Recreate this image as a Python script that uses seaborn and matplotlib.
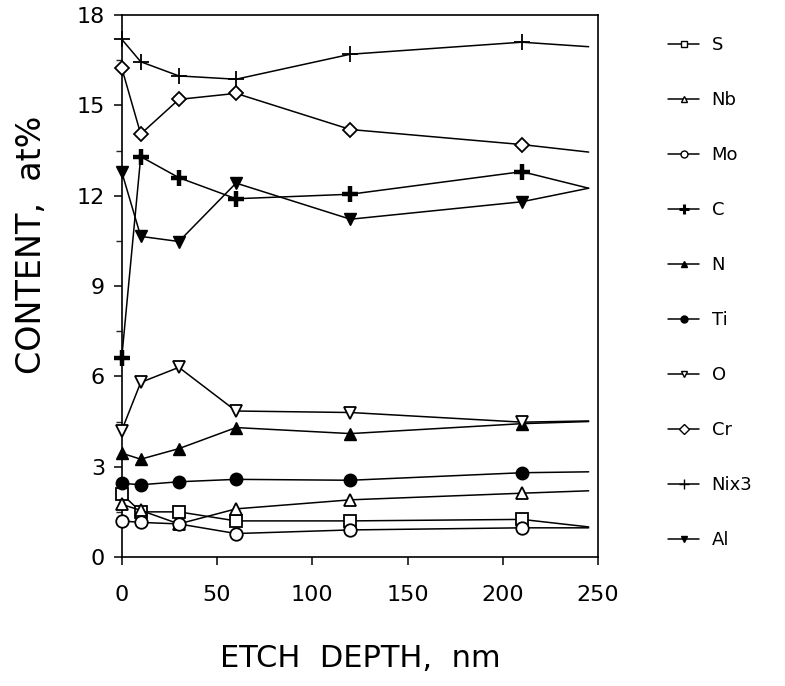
import matplotlib
matplotlib.use("Agg")
import matplotlib.pyplot as plt
from matplotlib.lines import Line2D
from matplotlib.ticker import MultipleLocator
import seaborn as sns
import pandas as pd

# etch depth (nm); last point is the line end without a marker
depth = [0, 10, 30, 60, 120, 210, 245]

s_vals = [2.1, 1.5, 1.5, 1.2, 1.2, 1.25, 1.0]
nb_vals = [1.75, 1.55, 1.1, 1.6, 1.9, 2.12, 2.2]
mo_vals = [1.2, 1.15, 1.1, 0.78, 0.9, 0.97, 0.97]
c_vals = [6.6, 13.3, 12.6, 11.9, 12.05, 12.8, 12.25]
n_vals = [3.45, 3.25, 3.6, 4.3, 4.1, 4.43, 4.5]
ti_vals = [2.45, 2.4, 2.5, 2.58, 2.55, 2.8, 2.83]
o_vals = [4.2, 5.8, 6.3, 4.85, 4.8, 4.48, 4.52]
cr_vals = [16.25, 14.05, 15.2, 15.4, 14.2, 13.7, 13.45]
ni_vals = [17.2, 16.45, 15.98, 15.87, 16.7, 17.1, 16.95]
al_vals = [12.8, 10.65, 10.48, 12.42, 11.22, 11.8, 12.25]

elements = ["S", "Nb", "Mo", "C", "N", "Ti", "O", "Cr", "Nix3", "Al"]
values = [s_vals, nb_vals, mo_vals, c_vals, n_vals, ti_vals, o_vals, cr_vals, ni_vals, al_vals]

# marker, filled?, edge width
styles = {
    "S": ("s", False, 1.3),
    "Nb": ("^", False, 1.3),
    "Mo": ("o", False, 1.3),
    "C": ("+", True, 3.2),
    "N": ("^", True, 1.0),
    "Ti": ("o", True, 1.0),
    "O": ("v", False, 1.3),
    "Cr": ("D", False, 1.3),
    "Nix3": ("+", True, 1.3),
    "Al": ("v", True, 1.0),
}

df = pd.DataFrame({"depth": depth * len(elements),
                   "content": sum(values, []),
                   "element": [e for e in elements for _ in depth]})

sns.set_theme(style="ticks")
plt.rcParams["font.family"] = ["DejaVu Sans"]
plt.rcParams["text.color"] = "black"
plt.rcParams["axes.labelcolor"] = "black"

fig = plt.figure(figsize=(7.85, 6.86), dpi=100)
ax = fig.add_axes([0.155, 0.188, 0.607, 0.79])

for el in elements:
    m, filled, mew = styles[el]
    sub = df[df["element"] == el]
    sizes = 12 if el in ("C", "Nix3") else (7.5 if el == "Cr" else 9)
    sns.lineplot(data=sub, x="depth", y="content", ax=ax, color="black",
                 lw=1.1, marker=m, markersize=sizes,
                 markerfacecolor="black" if filled else "white",
                 markeredgecolor="black", markeredgewidth=mew,
                 markevery=list(range(len(depth) - 1)), legend=False,
                 clip_on=False, zorder=3)

ax.set_xlim(0, 250)
ax.set_ylim(0, 18)
ax.xaxis.set_major_locator(MultipleLocator(50))
ax.yaxis.set_major_locator(MultipleLocator(3))
ax.yaxis.set_minor_locator(MultipleLocator(1.5))
ax.tick_params(axis="both", which="major", direction="out", length=6, width=1.1,
               labelsize=16, colors="black")
ax.tick_params(axis="y", which="minor", direction="out", length=4, width=1.0)
ax.tick_params(axis="x", pad=14)
ax.tick_params(axis="y", pad=6)
for sp in ax.spines.values():
    sp.set_linewidth(1.2)
    sp.set_color("black")

ax.set_xlabel("ETCH  DEPTH,  nm", fontsize=22, labelpad=28)
ax.set_ylabel("CONTENT,  at%", fontsize=24)
ax.yaxis.set_label_coords(-0.155, 0.576)

handles = []
for el in elements:
    m, filled, mew = styles[el]
    handles.append(Line2D([], [], color="black", lw=1.1, marker=m,
                          markersize=7 if el in ("C", "Nix3") else 5,
                          markerfacecolor="black" if filled else "white",
                          markeredgecolor="black",
                          markeredgewidth=2.2 if el == "C" else 1.0))
fig.legend(handles, elements, loc="upper left", bbox_to_anchor=(0.842, 0.958),
           frameon=False, fontsize=13, labelspacing=2.05, handlelength=1.7,
           handletextpad=0.7, borderaxespad=0)

fig.savefig("out.png", dpi=100, facecolor="white")
